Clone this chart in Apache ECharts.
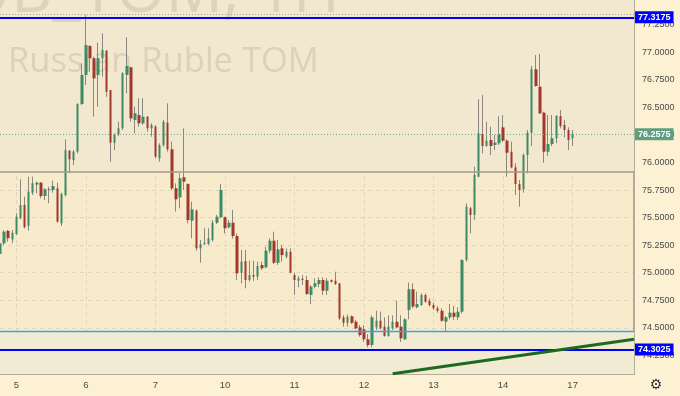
<!DOCTYPE html>
<html><head><meta charset="utf-8">
<script src="https://cdn.jsdelivr.net/npm/echarts@6/dist/echarts.min.js"></script>
<style>html,body{margin:0;padding:0;background:#fdf1d4}#c{width:680px;height:396px}</style>
</head><body><div id="c"></div>
<script>
// ---- data ----
const dayLabels = ['4','5','6','7','10','11','12','13','14','17'];
const firstDayStartHour = 20;   // first visible candle of day 4
const sessionHours = [7,8,9,10,11,12,13,14,15,16,17,18,19,20,21,22,23];
const slotsLastDay = 16;        // axis slots on day 17
const opens = [75.17,75.267,75.38,75.303,75.351,75.494,75.614,75.424,75.726,75.80,75.817,75.696,75.75,75.75,75.766,75.448,75.705,76.107,76.023,76.098,
76.531,76.794,77.057,76.946,76.794,76.946,77.015,76.658,76.18,76.259,76.31,76.794,76.864,76.386,76.431,76.356,76.416,76.31,76.325,76.038,
76.159,76.361,76.12,75.766,75.684,75.866,75.805,75.472,75.563,75.221,75.26,75.26,75.297,75.454,75.503,75.503,75.412,75.454,75.333,75.0,
75.106,74.934,74.979,74.964,75.07,75.049,75.2,75.29,75.09,75.221,75.145,75.19,74.979,74.927,74.945,74.934,74.798,74.873,74.897,74.934,
74.837,74.934,74.927,74.904,74.595,74.546,74.604,74.555,74.504,74.486,74.396,74.344,74.504,74.564,74.51,74.426,74.495,74.555,74.51,74.396,
74.662,74.85,74.686,74.707,74.798,74.746,74.707,74.677,74.655,74.555,74.595,74.637,74.595,74.646,75.115,75.584,75.524,75.871,76.259,76.15,
76.204,76.159,76.174,76.319,76.198,76.098,75.956,75.805,75.757,76.068,76.27,76.846,76.688,76.452,76.098,76.168,76.22,76.422,76.34,76.295,76.22];
const highs = [75.327,75.387,75.387,75.387,75.539,75.848,75.69,75.871,75.871,75.826,75.823,75.766,75.78,75.835,75.817,75.726,76.21,76.113,76.113,76.537,
76.90,77.338,77.066,76.96,77.087,77.172,77.021,76.658,76.265,76.37,76.82,77.136,76.87,76.507,76.583,76.583,76.42,76.356,76.34,76.174,
76.386,76.537,76.189,75.811,75.902,76.31,75.811,75.644,75.575,75.297,75.403,75.403,75.478,75.524,75.805,75.508,75.478,75.569,75.357,75.206,
75.206,75.109,75.109,75.1,75.1,75.236,75.312,75.372,75.297,75.251,75.221,75.221,75.0,74.97,74.979,74.97,74.888,74.949,74.958,74.958,
74.949,74.94,75.009,74.904,74.616,74.62,74.613,74.57,74.525,74.525,74.443,74.613,74.655,74.646,74.595,74.613,74.613,74.746,74.613,74.586,
74.91,74.904,74.828,74.813,74.813,74.768,74.728,74.698,74.677,74.607,74.716,74.698,74.686,75.122,75.63,75.599,75.962,76.574,76.613,76.37,
76.325,76.25,76.422,76.431,76.211,76.189,75.993,75.841,76.083,76.295,76.876,76.975,76.985,76.461,76.431,76.431,76.431,76.476,76.386,76.319,76.295];
const lows = [75.16,75.25,75.282,75.267,75.342,75.485,75.403,75.381,75.705,75.72,75.675,75.66,75.63,75.726,75.454,75.424,75.69,75.907,75.977,76.083,
76.522,76.703,76.824,76.416,76.506,76.779,76.597,76.007,76.113,76.24,76.295,76.628,76.37,76.265,76.325,76.34,76.28,76.234,76.038,76.007,
76.143,76.098,75.75,75.554,75.584,75.75,75.448,75.312,75.2,75.091,75.251,75.25,75.282,75.442,75.494,75.357,75.403,75.31,74.934,74.904,
74.858,74.918,74.927,74.934,75.025,75.04,75.176,75.079,75.07,75.1,75.13,74.995,74.798,74.867,74.888,74.798,74.716,74.858,74.867,74.798,
74.798,74.91,74.888,74.571,74.51,74.51,74.534,74.486,74.419,74.372,74.323,74.323,74.48,74.486,74.419,74.419,74.48,74.495,74.372,74.39,
74.577,74.677,74.677,74.698,74.728,74.692,74.662,74.637,74.555,74.467,74.577,74.571,74.571,74.63,75.1,75.357,75.478,75.866,76.083,76.143,
76.068,76.113,76.159,76.189,75.871,75.947,75.705,75.599,75.726,75.902,76.15,76.688,76.44,75.998,76.059,76.15,76.174,76.31,76.229,76.113,76.15];
const closes = [75.267,75.372,75.313,75.363,75.508,75.614,75.412,75.735,75.811,75.817,75.696,75.757,75.757,75.787,75.463,75.714,76.113,76.029,76.098,76.531,
76.794,77.066,76.946,76.764,76.946,77.021,76.642,76.18,76.259,76.31,76.81,76.876,76.40,76.447,76.356,76.416,76.31,76.34,76.053,76.159,
76.37,76.12,75.766,75.666,75.857,75.826,75.478,75.575,75.221,75.26,75.272,75.312,75.454,75.508,75.75,75.403,75.454,75.333,74.995,75.1,
74.934,74.979,74.964,75.061,75.04,75.2,75.29,75.09,75.212,75.16,75.19,75.0,74.934,74.949,74.934,74.807,74.873,74.904,74.934,74.837,
74.927,74.918,74.897,74.586,74.546,74.60,74.546,74.495,74.434,74.396,74.344,74.595,74.564,74.495,74.426,74.51,74.555,74.504,74.405,74.577,
74.85,74.693,74.716,74.798,74.737,74.707,74.677,74.655,74.564,74.595,74.637,74.60,74.646,75.115,75.599,75.524,75.887,76.265,76.15,76.198,
76.15,76.18,76.259,76.198,76.089,75.956,75.805,75.75,76.068,76.27,76.846,76.694,76.446,76.098,76.168,76.22,76.422,76.331,76.295,76.204,76.2575];
const yTicks = [74.25,74.5,74.75,75.0,75.25,75.5,75.75,76.0,76.25,76.5,76.75,77.0,77.25];
const yMin = 74.0808, yMax = 77.4746;
const blueLevels = [77.3175, 74.3025];
const lastPrice = 76.2575;
const grayLevel = 75.912;
const lightBlueLevel = 74.473;
const highDotted = 77.345;
const trendLine = [[96, 74.084], [155, 74.396]];

// ---- build ----
const cats = [];
dayLabels.forEach((d, di) => {
  if (di === 0) {
    sessionHours.filter(h => h >= firstDayStartHour).forEach(h => cats.push(d + '|' + h));
  } else if (di === dayLabels.length - 1) {
    sessionHours.slice(0, slotsLastDay).forEach(h => cats.push(d + '|' + h));
  } else {
    sessionHours.forEach(h => cats.push(d + '|' + h));
  }
});
const isDayStart = (i, v) => v.split('|')[1] === String(sessionHours[0]);
const full = opens.map((o, i) => [o, closes[i], lows[i], highs[i]]);
const bodies = opens.map((o, i) => [o, closes[i], Math.min(o, closes[i]), Math.max(o, closes[i])]);

const UP = '#3d8a64', DOWN = '#a2372c', WICK = '#8a8780';
const tag = (bg) => ({show: true, position: 'end', distance: 1, formatter: p => Number(p.value).toFixed(4),
  color: '#ffffff', backgroundColor: bg, padding: [2, 3, 1, 3], fontSize: 9, fontWeight: 'bold',
  fontFamily: 'Liberation Sans'});

const chart = echarts.init(document.getElementById('c'));
chart.setOption({
  animation: false,
  backgroundColor: '#fdf1d4',
  grid: {left: 0, right: 46, top: 0, bottom: 22, show: true, backgroundColor: '#f7ebcb', borderWidth: 0},
  xAxis: {
    type: 'category', data: cats, boundaryGap: false,
    axisLine: {show: true, lineStyle: {color: '#9a968b', width: 1.5}},
    axisTick: {show: false},
    axisLabel: {interval: isDayStart, formatter: v => v.split('|')[0], color: '#4a4a4a',
      fontSize: 9.5, margin: 6, fontFamily: 'Liberation Sans'},
    splitLine: {show: true, interval: isDayStart, lineStyle: {color: '#e0d5bd', type: [4, 4], width: 1}}
  },
  yAxis: {
    type: 'value', position: 'right', min: yMin, max: yMax,
    axisLine: {show: true, lineStyle: {color: '#9a968b', width: 1.5}},
    axisTick: {show: false, customValues: yTicks},
    axisLabel: {customValues: yTicks, formatter: v => v.toFixed(4), color: '#4a4a4a',
      fontSize: 9, margin: 8, fontFamily: 'Liberation Sans'},
    splitLine: {show: true, lineStyle: {color: '#e0d5bd', type: [4, 4], width: 1}}
  },
  graphic: {elements: [
    {type: 'text', x: 340, y: -6, z: 2, silent: true, style: {text: 'USDRUB_TOM, 1H', align: 'right',
      verticalAlign: 'middle', fontSize: 64, fontFamily: 'Open Sans', fill: 'rgba(120,100,70,0.16)'}},
    {type: 'text', x: 8, y: 62, z: 2, silent: true, style: {text: 'Russian Ruble TOM', align: 'left',
      verticalAlign: 'middle', fontSize: 34.5, fontFamily: 'Open Sans', fill: 'rgba(120,100,70,0.17)'}},
    {type: 'text', x: 656, y: 385, z: 10, silent: true, style: {text: '\u2699', align: 'center',
      verticalAlign: 'middle', fontSize: 14, fontFamily: 'DejaVu Sans', fill: '#333333'}}
  ]},
  series: [
    {type: 'line', data: [], z: 0, silent: true,
      markArea: {silent: true, data: [
        [{yAxis: grayLevel, itemStyle: {color: '#f2e7cf'}}, {yAxis: yMax}],
        [{yAxis: yMin, itemStyle: {color: '#f2ebd4'}}, {yAxis: lightBlueLevel}]
      ]}},
    {type: 'candlestick', name: 'wick', data: full, z: 3, barWidth: 0.01, silent: true,
      itemStyle: {color: WICK, color0: WICK, borderColor: WICK, borderColor0: WICK, borderWidth: 1}},
    {type: 'candlestick', name: 'body', data: bodies, z: 4, barWidth: 3, silent: true,
      itemStyle: {color: UP, color0: DOWN, borderColor: UP, borderColor0: DOWN, borderWidth: 0}},
    {type: 'line', data: [], z: 5, silent: true,
      markLine: {silent: true, precision: 4, symbol: ['none', 'none'], animation: false, data: [
        {yAxis: highDotted, lineStyle: {color: '#a9a496', type: [1, 2], width: 1}, label: {show: false}},
        {yAxis: grayLevel, lineStyle: {color: '#a09a8a', type: 'solid', width: 1.5}, label: {show: false}},
        {yAxis: lightBlueLevel, lineStyle: {color: '#3aa2e2', type: 'solid', width: 1.3}, label: {show: false}},
        {yAxis: lastPrice, lineStyle: {color: '#76a88e', type: [1, 2], width: 1}, label: tag('#5f9f80')},
        {yAxis: blueLevels[0], lineStyle: {color: '#0000ff', type: 'solid', width: 2}, label: tag('#0000ff')},
        {yAxis: blueLevels[1], lineStyle: {color: '#0000ff', type: 'solid', width: 2}, label: tag('#0000ff')}
      ]}},
    {type: 'line', data: trendLine, z: 6, silent: true, showSymbol: false, symbol: 'none', clip: true,
      lineStyle: {color: '#1c6a1f', width: 3}}
  ]
});
</script></body></html>
